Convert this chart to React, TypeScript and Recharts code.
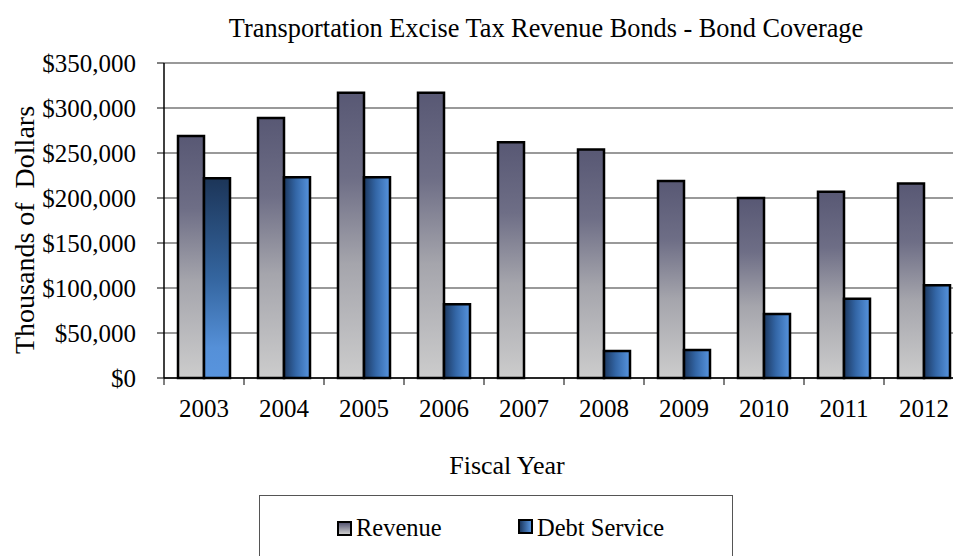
import React from 'react';
import { BarChart, Bar, XAxis, YAxis, CartesianGrid, Cell, Label } from 'recharts';

const years = ['2003', '2004', '2005', '2006', '2007', '2008', '2009', '2010', '2011', '2012'];
const revenue = [269000, 289000, 317000, 317000, 262000, 254000, 219000, 200000, 207000, 216000];
const debtService = [222000, 223000, 223000, 82000, 0, 30000, 31000, 71000, 88000, 103000];
const yTicks = [0, 50000, 100000, 150000, 200000, 250000, 300000, 350000];

const FONT = '"Liberation Serif", "Times New Roman", serif';

const data = years.map((year, i) => ({
  year,
  revenue: revenue[i],
  debt: debtService[i],
}));

const XTick = ({ x, y, payload }: any) => {
  const half = payload && payload.offset ? payload.offset : 40;
  return (
    <g>
      <line x1={x - half} x2={x - half} y1={y} y2={y + 7} stroke="#000" strokeWidth={1} />
      <text x={x} y={y + 39} textAnchor="middle" fontSize={25} fontFamily={FONT} fill="#000">
        {payload.value}
      </text>
    </g>
  );
};

const App: React.FC = () => {
  return (
    <div
      style={{
        position: 'fixed',
        left: 0,
        top: 0,
        width: 953,
        height: 556,
        overflow: 'hidden',
        background: '#fff',
        fontFamily: FONT,
      }}
    >
      <div
        style={{
          position: 'absolute',
          left: 0,
          width: 1092,
          top: 14,
          textAlign: 'center',
          fontSize: 26.3,
          color: '#000',
          whiteSpace: 'nowrap',
        }}
      >
        Transportation Excise Tax Revenue Bonds - Bond Coverage
      </div>

      <BarChart
        width={970}
        height={556}
        data={data}
        margin={{ top: 63, right: 6, left: 0, bottom: 0 }}
        barCategoryGap="17.5%"
        barGap={0}
      >
        <defs>
          <linearGradient id="revGrad" x1="0" y1="0" x2="0" y2="1">
            <stop offset="0%" stopColor="#585874" />
            <stop offset="30%" stopColor="#6e6e86" />
            <stop offset="60%" stopColor="#a5a5ac" />
            <stop offset="100%" stopColor="#cccccc" />
          </linearGradient>
          <linearGradient id="debtGrad" x1="0" y1="0" x2="1" y2="0">
            <stop offset="0%" stopColor="#1c3860" />
            <stop offset="45%" stopColor="#3366a6" />
            <stop offset="100%" stopColor="#5794de" />
          </linearGradient>
          <linearGradient id="debtGradV" x1="0" y1="0" x2="0" y2="1">
            <stop offset="0%" stopColor="#1c3558" />
            <stop offset="50%" stopColor="#34659f" />
            <stop offset="85%" stopColor="#5590d8" />
            <stop offset="100%" stopColor="#5894de" />
          </linearGradient>
        </defs>
        <CartesianGrid vertical={false} stroke="#777777" strokeWidth={1.3} />
        <XAxis
          dataKey="year"
          height={178}
          tickLine={false}
          tickSize={0}
          tickMargin={0}
          axisLine={{ stroke: '#000', strokeWidth: 1.5 }}
          tick={<XTick />}
          interval={0}
        >
          <Label
            content={() => (
              <text x={507} y={474} textAnchor="middle" fontSize={26} fontFamily={FONT} fill="#000">
                Fiscal Year
              </text>
            )}
          />
        </XAxis>
        <YAxis
          width={164}
          domain={[0, 350000]}
          ticks={yTicks}
          interval={0}
          tickSize={7}
          tickMargin={21}
          tickLine={{ stroke: '#000' }}
          axisLine={{ stroke: '#000', strokeWidth: 1.5 }}
          tick={{ fill: '#000', fontSize: 25, fontFamily: FONT }}
          tickFormatter={(v: number) => `$${v.toLocaleString('en-US')}`}
        >
          <Label
            content={() => (
              <text
                x={0}
                y={0}
                transform="translate(34 230) rotate(-90)"
                textAnchor="middle"
                fontSize={28}
                fontFamily={FONT}
                fill="#000"
                style={{ whiteSpace: 'pre' }}
              >
                Thousands of  Dollars
              </text>
            )}
          />
        </YAxis>
        <Bar
          dataKey="revenue"
          barSize={26}
          fill="url(#revGrad)"
          stroke="#000"
          strokeWidth={2.5}
          isAnimationActive={false}
        />
        <Bar
          dataKey="debt"
          barSize={26}
          fill="url(#debtGrad)"
          stroke="#000"
          strokeWidth={2.5}
          isAnimationActive={false}
        >
          {data.map((d, i) => (
            <Cell key={d.year} fill={i === 0 ? 'url(#debtGradV)' : 'url(#debtGrad)'} />
          ))}
        </Bar>
      </BarChart>

      <div
        style={{
          position: 'absolute',
          left: 259,
          top: 495,
          width: 474,
          height: 80,
          border: '1.5px solid #555',
          boxSizing: 'border-box',
        }}
      />
      <div style={{ position: 'absolute', left: 337, top: 521, width: 15, height: 15, boxSizing: 'border-box', border: '2px solid #000', background: 'linear-gradient(#585874, #cccccc)' }} />
      <div style={{ position: 'absolute', left: 356, top: 513, fontSize: 24.5, lineHeight: '30px', color: '#000' }}>Revenue</div>
      <div style={{ position: 'absolute', left: 518, top: 519, width: 15, height: 15, boxSizing: 'border-box', border: '2px solid #000', background: 'linear-gradient(to right, #1c3860, #5794de)' }} />
      <div style={{ position: 'absolute', left: 537, top: 513, fontSize: 24.5, lineHeight: '30px', color: '#000' }}>Debt Service</div>
    </div>
  );
};

export default App;
